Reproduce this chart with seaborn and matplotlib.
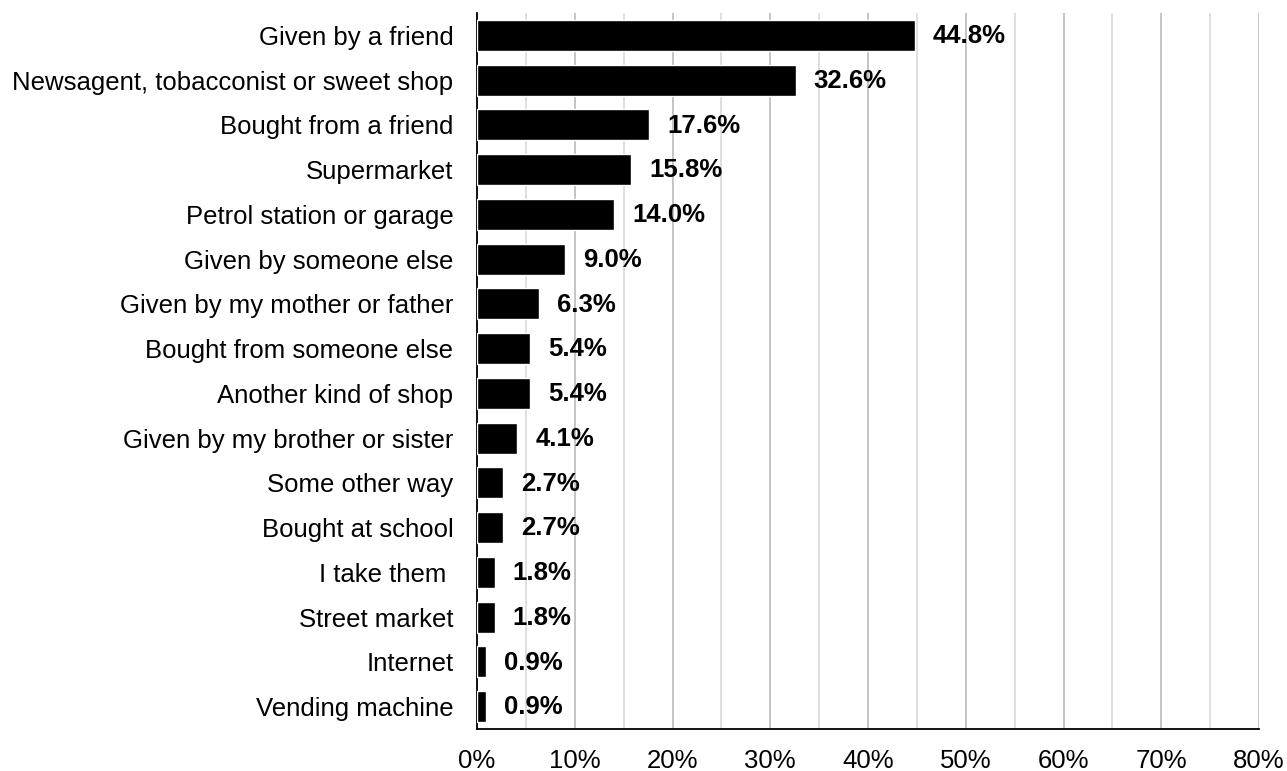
import matplotlib
matplotlib.use("Agg")
import matplotlib.pyplot as plt
from matplotlib.ticker import MultipleLocator, PercentFormatter
import seaborn as sns
import pandas as pd

sources = [
    "Given by a friend",
    "Newsagent, tobacconist or sweet shop",
    "Bought from a friend",
    "Supermarket",
    "Petrol station or garage",
    "Given by someone else",
    "Given by my mother or father",
    "Bought from someone else",
    "Another kind of shop",
    "Given by my brother or sister",
    "Some other way",
    "Bought at school",
    "I take them ",
    "Street market",
    "Internet",
    "Vending machine",
]
shares = [44.8, 32.6, 17.6, 15.8, 14.0, 9.0, 6.3, 5.4, 5.4, 4.1, 2.7, 2.7, 1.8, 1.8, 0.9, 0.9]

df = pd.DataFrame({"source": sources, "share": shares})

sns.set_theme(style="white")
plt.rcParams["font.family"] = ["Liberation Sans", "DejaVu Sans"]

fig = plt.figure(figsize=(12.87, 7.71), dpi=100)
ax = fig.add_axes([477 / 1287, 1 - 729 / 771, (1259 - 477) / 1287, (729 - 13) / 771])

sns.barplot(data=df, x="share", y="source", orient="h", color="black",
            saturation=1, width=0.69, ax=ax, zorder=3)

for i, v in enumerate(shares):
    ax.annotate(f"{v:.1f}%", xy=(v, i), xytext=(13, -0.5), textcoords="offset points",
                ha="left", va="center", fontsize=18.5, fontweight="bold",
                color="black", zorder=4)

ax.set_xlim(0, 80)
ax.set_ylim(len(sources) - 0.5, -0.5)
ax.xaxis.set_major_locator(MultipleLocator(10))
ax.xaxis.set_minor_locator(MultipleLocator(5))
ax.xaxis.set_major_formatter(PercentFormatter(decimals=0))
ax.grid(axis="x", which="major", color="#bfbfbf", linewidth=1.3, zorder=0)
ax.grid(axis="x", which="minor", color="#dcdcdc", linewidth=1.3, zorder=0)
ax.grid(axis="y", visible=False)

for side in ["top", "right"]:
    ax.spines[side].set_visible(False)
for side in ["left", "bottom"]:
    ax.spines[side].set_visible(True)
    ax.spines[side].set_color("black")
    ax.spines[side].set_linewidth(1.3)

ax.set_xlabel("")
ax.set_ylabel("")
ax.tick_params(axis="x", which="both", length=0, labelsize=18.5, pad=14.5, colors="black")
ax.tick_params(axis="y", length=0, labelsize=18.5, pad=17, colors="black")

fig.savefig("out.png", dpi=100, facecolor="white")
